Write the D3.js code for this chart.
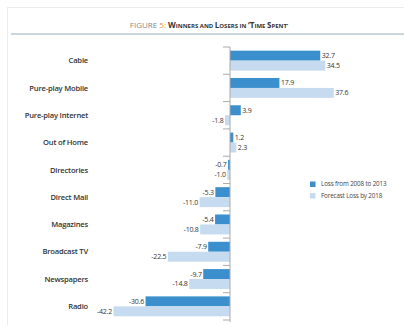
<!DOCTYPE html>
<html><head><meta charset="utf-8">
<script src="https://cdn.jsdelivr.net/npm/d3@7"></script>
<style>html,body{margin:0;padding:0;background:#fff;}svg{display:block;}</style>
</head><body>
<script>
const categories = ["Cable","Pure-play Mobile","Pure-play Internet","Out of Home","Directories","Direct Mail","Magazines","Broadcast TV","Newspapers","Radio"];
const loss2008to2013 = [32.7,17.9,3.9,1.2,-0.7,-5.3,-5.4,-7.9,-9.7,-30.6];
const forecast2018 = [34.5,37.6,-1.8,2.3,-1.0,-11.0,-10.8,-22.5,-14.8,-42.2];
const seriesNames = ["Loss from 2008 to 2013","Forecast Loss by 2018"];
const colors = ["#3a8fcc","#c6dbef"];

const W = 404, H = 325;
const svg = d3.select("body").append("svg").attr("width", W).attr("height", H);
const font = "'Open Sans', 'Noto Sans', sans-serif";

// frame
svg.append("rect").attr("x",7.5).attr("y",7.5).attr("width",600).attr("height",600)
  .attr("fill","none").attr("stroke","#ededed");
svg.append("line").attr("x1",11).attr("x2",404).attr("y1",34).attr("y2",34)
  .attr("stroke","#b9c9d5").attr("stroke-width",1.5);

// title
const t = svg.append("text").attr("x",209).attr("y",28).attr("text-anchor","middle")
  .attr("font-family",font).attr("fill","#333");
t.append("tspan").attr("font-size",8).attr("fill","#888").text("FIGURE ");
t.append("tspan").attr("font-size",8).attr("fill","#e8953f").text("5: ");
const words = ["Winners","and","Losers","in","‘Time","Spent’"];
words.forEach((w,i)=>{
  const first = w[0] === "‘" ? w.slice(0,2) : w[0];
  const rest = w.slice(first.length);
  const big = (w==="and"||w==="in") ? "" : first;
  const small = (w==="and"||w==="in") ? w : rest;
  if (big) t.append("tspan").attr("font-size",8).attr("font-weight",700).text(big.toUpperCase());
  t.append("tspan").attr("font-size",6).attr("font-weight",700).text(small.toUpperCase() + (i<words.length-1?" ":""));
});

const x = d3.scaleLinear().domain([-50,50]).range([92,368]);
const y = d3.scaleBand().domain(categories).range([47,320]).paddingInner(0.27).paddingOuter(0.135);
const bh = y.bandwidth()/2;
const step = y.step();
const x0 = x(0);

const g = svg.append("g");
categories.forEach((c,i)=>{
  const vals = [loss2008to2013[i], forecast2018[i]];
  vals.forEach((v,j)=>{
    const yy = y(c) + j*bh;
    g.append("rect").attr("x", Math.min(x(v),x0)).attr("y", yy)
      .attr("width", Math.abs(x(v)-x0)).attr("height", bh).attr("fill", colors[j]);
    g.append("text").attr("x", v>=0 ? x(v)+1.5 : x(v)-1.5).attr("y", yy+bh/2)
      .attr("dy","0.35em").attr("text-anchor", v>=0?"start":"end")
      .attr("font-family",font).attr("font-size",7).attr("fill","#333")
      .attr("letter-spacing","-0.2").text(v.toFixed(1));
  });
  g.append("text").attr("x",88).attr("y", y(c)+y.bandwidth()/2).attr("dy","0.35em")
    .attr("text-anchor","end").attr("font-family",font).attr("font-size",7.6)
    .attr("font-weight",600).attr("fill","#333").attr("letter-spacing","-0.2").text(c);
});

// axis
g.append("line").attr("x1",x0).attr("x2",x0).attr("y1",47).attr("y2",322)
  .attr("stroke","#aaa").attr("stroke-width",1);
d3.range(categories.length+1).forEach(i=>{
  const yy = 47 + i*step;
  g.append("line").attr("x1",x0-7).attr("x2",x0).attr("y1",yy).attr("y2",yy)
    .attr("stroke","#aaa").attr("stroke-width",1);
});

// legend
seriesNames.forEach((n,j)=>{
  const ly = 181.5 + j*11.5;
  svg.append("rect").attr("x",310).attr("y",ly).attr("width",5.5).attr("height",5.5).attr("fill",colors[j]);
  svg.append("text").attr("x",321).attr("y",ly+2.75).attr("dy","0.35em")
    .attr("font-family",font).attr("font-size",6.3).attr("fill","#444")
    .attr("letter-spacing","-0.15").text(n);
});
</script>
</body></html>
